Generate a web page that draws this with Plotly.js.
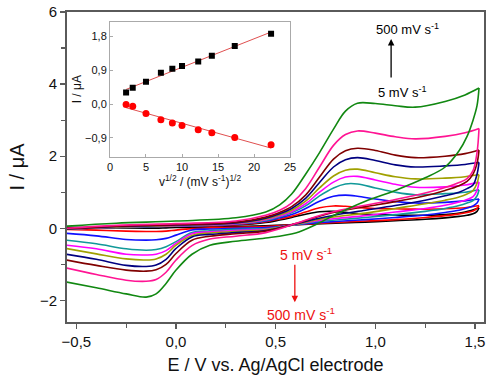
<!DOCTYPE html>
<html>
<head>
<meta charset="utf-8">
<script src="https://cdn.plot.ly/plotly-3.0.1.min.js"></script>
<style>html,body{margin:0;padding:0;background:#fff}#chart{width:500px;height:386px}</style>
</head>
<body>
<div id="chart"></div>
<script>
// Scan rates (mV/s) and colours
const scanRates = [5, 10, 25, 50, 75, 100, 150, 200, 300, 500];
const curveColors = ['#000000', '#ff0000', '#1010ff', '#119999', '#ff00ff', '#a0a000', '#000080', '#800000', '#ff1493', '#118811'];

// Forward (anodic) potential grid, V
const eForward = [-0.55, -0.3, 0.0, 0.3, 0.45, 0.52, 0.58, 0.65, 0.72, 0.79, 0.85, 0.91, 1.0, 1.1, 1.2, 1.35, 1.45, 1.52];
// Reverse (cathodic) potential grid, V
const eReverse = [1.52, 1.51, 1.49, 1.46, 1.42, 1.35, 1.25, 1.1, 0.95, 0.8, 0.7, 0.6, 0.45, 0.3, 0.17, 0.08, 0.0, -0.05, -0.1, -0.15, -0.25, -0.4, -0.55];

// Currents, uA (forward branch)
const iFwd5   = [0.0, 0.03, 0.05, 0.09, 0.16, 0.23, 0.3, 0.39, 0.46, 0.47, 0.44, 0.41, 0.38, 0.37, 0.36, 0.38, 0.45, 0.57];
const iFwd10  = [-0.01, 0.03, 0.06, 0.1, 0.18, 0.26, 0.33, 0.45, 0.57, 0.62, 0.61, 0.58, 0.55, 0.54, 0.53, 0.54, 0.57, 0.63];
const iFwd25  = [-0.02, 0.03, 0.06, 0.11, 0.2, 0.29, 0.38, 0.55, 0.75, 0.89, 0.92, 0.89, 0.81, 0.74, 0.70, 0.72, 0.76, 0.81];
const iFwd50  = [-0.02, 0.03, 0.06, 0.12, 0.22, 0.32, 0.43, 0.62, 0.9, 1.12, 1.23, 1.23, 1.12, 1.0, 0.93, 0.96, 1.0, 1.07];
const iFwd75  = [-0.02, 0.04, 0.07, 0.13, 0.24, 0.34, 0.46, 0.68, 1.0, 1.28, 1.42, 1.44, 1.34, 1.22, 1.14, 1.15, 1.2, 1.28];
const iFwd100 = [-0.02, 0.04, 0.08, 0.14, 0.26, 0.37, 0.5, 0.75, 1.12, 1.45, 1.61, 1.64, 1.54, 1.43, 1.37, 1.39, 1.43, 1.49];
const iFwd150 = [-0.02, 0.05, 0.09, 0.15, 0.28, 0.4, 0.55, 0.83, 1.27, 1.7, 1.9, 1.96, 1.88, 1.76, 1.70, 1.73, 1.77, 1.83];
const iFwd200 = [-0.01, 0.06, 0.1, 0.17, 0.31, 0.44, 0.6, 0.92, 1.42, 1.92, 2.15, 2.22, 2.16, 2.03, 1.96, 2.0, 2.07, 2.17];
const iFwd300 = [0.0, 0.08, 0.13, 0.2, 0.36, 0.5, 0.7, 1.1, 1.7, 2.3, 2.6, 2.7, 2.64, 2.54, 2.48, 2.55, 2.65, 2.77];
const iFwd500 = [0.06, 0.14, 0.2, 0.29, 0.45, 0.65, 0.95, 1.5, 2.1, 2.75, 3.25, 3.47, 3.46, 3.40, 3.36, 3.52, 3.70, 3.89];

// Currents, uA (reverse branch)
const iRev5   = [0.57, 0.47, 0.4, 0.36, 0.33, 0.29, 0.25, 0.21, 0.17, 0.14, 0.12, 0.1, 0.07, 0.05, 0.03, 0.02, 0.02, 0.01, 0.0, 0.0, 0.01, 0.02, 0.03];
const iRev10  = [0.63, 0.55, 0.48, 0.44, 0.4, 0.35, 0.3, 0.24, 0.2, 0.16, 0.13, 0.1, 0.05, 0.03, 0.01, -0.01, -0.05, -0.08, -0.09, -0.09, -0.08, -0.05, -0.03];
const iRev25  = [0.81, 0.7, 0.62, 0.56, 0.5, 0.44, 0.37, 0.3, 0.24, 0.19, 0.15, 0.1, 0.02, 0.0, -0.02, -0.05, -0.19, -0.28, -0.32, -0.33, -0.31, -0.21, -0.14];
const iRev50  = [1.07, 0.9, 0.77, 0.7, 0.63, 0.55, 0.47, 0.38, 0.3, 0.23, 0.18, 0.1, -0.01, -0.03, -0.07, -0.12, -0.37, -0.51, -0.59, -0.61, -0.57, -0.43, -0.33];
const iRev75  = [1.28, 1.05, 0.88, 0.8, 0.73, 0.64, 0.55, 0.45, 0.35, 0.27, 0.2, 0.11, -0.03, -0.06, -0.1, -0.15, -0.42, -0.62, -0.72, -0.74, -0.72, -0.57, -0.47];
const iRev100 = [1.49, 1.25, 1.05, 0.95, 0.87, 0.78, 0.68, 0.55, 0.42, 0.32, 0.23, 0.11, -0.04, -0.09, -0.13, -0.2, -0.47, -0.72, -0.85, -0.88, -0.85, -0.71, -0.56];
const iRev150 = [1.83, 1.5, 1.2, 1.1, 1.0, 0.9, 0.78, 0.63, 0.5, 0.37, 0.26, 0.12, -0.06, -0.12, -0.17, -0.24, -0.56, -0.86, -1.02, -1.06, -1.03, -0.86, -0.72];
const iRev200 = [2.17, 1.8, 1.5, 1.3, 1.18, 1.05, 0.9, 0.74, 0.6, 0.45, 0.3, 0.13, -0.08, -0.15, -0.22, -0.33, -0.70, -1.0, -1.15, -1.19, -1.16, -1.03, -0.88];
const iRev300 = [2.77, 2.1, 1.6, 1.38, 1.27, 1.13, 0.98, 0.8, 0.64, 0.47, 0.32, 0.13, -0.12, -0.22, -0.3, -0.48, -0.88, -1.22, -1.42, -1.47, -1.44, -1.28, -1.10];
const iRev500 = [3.89, 3.4, 3.0, 2.55, 2.15, 1.7, 1.4, 1.05, 0.75, 0.38, 0.1, -0.13, -0.27, -0.36, -0.47, -0.72, -1.16, -1.53, -1.82, -1.91, -1.82, -1.65, -1.49];

// Inset: peak current vs square root of scan rate
const sqrtRate = [2.24, 3.16, 5.0, 7.07, 8.66, 10.0, 12.25, 14.14, 17.32, 22.36];
const ipAnodic = [0.31, 0.43, 0.59, 0.83, 0.94, 1.01, 1.13, 1.28, 1.54, 1.87];
const ipCathodic = [-0.01, -0.06, -0.25, -0.42, -0.50, -0.57, -0.68, -0.76, -0.89, -1.08];

const fwdSets = [iFwd5, iFwd10, iFwd25, iFwd50, iFwd75, iFwd100, iFwd150, iFwd200, iFwd300, iFwd500];
const revSets = [iRev5, iRev10, iRev25, iRev50, iRev75, iRev100, iRev150, iRev200, iRev300, iRev500];

const traces = [];
for (let k = 0; k < scanRates.length; k++) {
  const line = {color: curveColors[k], width: 1.6, shape: 'spline', smoothing: 1};
  traces.push({x: eForward, y: fwdSets[k], mode: 'lines', line: line, showlegend: false, hoverinfo: 'skip', xaxis: 'x', yaxis: 'y'});
  traces.push({x: eReverse, y: revSets[k], mode: 'lines', line: line, showlegend: false, hoverinfo: 'skip', xaxis: 'x', yaxis: 'y'});
}

function linFit(xs, ys) {
  const n = xs.length;
  let sx = 0, sy = 0, sxx = 0, sxy = 0;
  for (let i = 0; i < n; i++) { sx += xs[i]; sy += ys[i]; sxx += xs[i] * xs[i]; sxy += xs[i] * ys[i]; }
  const b = (n * sxy - sx * sy) / (n * sxx - sx * sx);
  const a = (sy - b * sx) / n;
  const x0 = xs[0], x1 = xs[n - 1];
  return {x: [x0, x1], y: [a + b * x0, a + b * x1]};
}
const fitA = linFit(sqrtRate, ipAnodic);
const fitC = linFit(sqrtRate, ipCathodic);
traces.push({x: fitA.x, y: fitA.y, mode: 'lines', line: {color: '#e05050', width: 1}, xaxis: 'x2', yaxis: 'y2', showlegend: false, hoverinfo: 'skip'});
traces.push({x: fitC.x, y: fitC.y, mode: 'lines', line: {color: '#e05050', width: 1}, xaxis: 'x2', yaxis: 'y2', showlegend: false, hoverinfo: 'skip'});
traces.push({x: sqrtRate, y: ipAnodic, mode: 'markers', marker: {symbol: 'square', size: 6, color: '#000'}, xaxis: 'x2', yaxis: 'y2', showlegend: false, hoverinfo: 'skip'});
traces.push({x: sqrtRate, y: ipCathodic, mode: 'markers', marker: {symbol: 'circle', size: 7, color: '#ff0000'}, xaxis: 'x2', yaxis: 'y2', showlegend: false, hoverinfo: 'skip'});

const font = 'Liberation Sans, Arial, sans-serif';
const layout = {
  width: 500, height: 386,
  margin: {l: 67, r: 16, t: 12, b: 64},
  paper_bgcolor: '#fff', plot_bgcolor: '#fff',
  separators: ', ',
  font: {family: font, color: '#111', size: 14},
  xaxis: {
    range: [-0.547, 1.545], dtick: 0.5, tick0: 0, tickformat: '.1f',
    showgrid: false, zeroline: false, showline: true, mirror: true,
    linecolor: '#5a5a5a', linewidth: 1.8,
    ticks: 'outside', ticklen: 5, tickcolor: '#5a5a5a', tickwidth: 1.2,
    minor: {dtick: 0.25, ticks: 'outside', ticklen: 4, tickcolor: '#5a5a5a', showgrid: false},
    tickfont: {size: 15, family: font},
    title: {text: 'E / V vs. Ag/AgCl electrode', font: {size: 18, family: font}, standoff: 10}
  },
  yaxis: {
    range: [-2.6, 6.0], dtick: 2, tick0: 0,
    showgrid: false, zeroline: false, showline: true, mirror: true,
    linecolor: '#5a5a5a', linewidth: 1.8,
    ticks: 'outside', ticklen: 5, tickcolor: '#5a5a5a', tickwidth: 1.2,
    minor: {dtick: 1, ticks: 'outside', ticklen: 4, tickcolor: '#5a5a5a', showgrid: false},
    tickfont: {size: 15, family: font},
    title: {text: 'I / μA', font: {size: 20, family: font}, standoff: 10}
  },
  xaxis2: {
    domain: [0.103, 0.535], anchor: 'y2', range: [0, 25], dtick: 5,
    showgrid: false, zeroline: false, showline: true, mirror: true,
    linecolor: '#aaa', linewidth: 1, ticks: 'inside', ticklen: 3, tickcolor: '#aaa',
    tickfont: {size: 11, family: font},
    title: {text: 'v<sup>1/2</sup> / (mV s<sup>-1</sup>)<sup>1/2</sup>', font: {size: 12, family: font}, standoff: 2}
  },
  yaxis2: {
    domain: [0.533, 0.969], anchor: 'x2', range: [-1.40, 2.19],
    tickvals: [-0.9, 0, 0.9, 1.8], tickformat: '.1f',
    showgrid: false, zeroline: false, showline: true, mirror: true,
    linecolor: '#aaa', linewidth: 1, ticks: 'inside', ticklen: 3, tickcolor: '#aaa',
    tickfont: {size: 11, family: font},
    title: {text: 'I / μA', font: {size: 12, family: font}, standoff: 0}
  },
  annotations: [
    {x: 1.163, y: 5.53, xref: 'x', yref: 'y', text: '500 mV s<sup>-1</sup>', showarrow: false, font: {size: 13, color: '#000', family: font}},
    {x: 1.137, y: 3.78, xref: 'x', yref: 'y', text: '5 mV s<sup>-1</sup>', showarrow: false, font: {size: 13, color: '#000', family: font}},
    {x: 1.079, y: 5.25, ax: 1.079, ay: 4.14, xref: 'x', yref: 'y', axref: 'x', ayref: 'y', text: '', showarrow: true, arrowhead: 2, arrowsize: 1, arrowwidth: 1.3, arrowcolor: '#000'},
    {x: 0.654, y: -0.70, xref: 'x', yref: 'y', text: '5 mV s<sup>-1</sup>', showarrow: false, font: {size: 14, color: '#ee1111', family: font}},
    {x: 0.596, y: -2.05, ax: 0.596, ay: -0.97, xref: 'x', yref: 'y', axref: 'x', ayref: 'y', text: '', showarrow: true, arrowhead: 2, arrowsize: 1, arrowwidth: 1.3, arrowcolor: '#ee1111'},
    {x: 0.629, y: -2.39, xref: 'x', yref: 'y', text: '500 mV s<sup>-1</sup>', showarrow: false, font: {size: 14, color: '#ee1111', family: font}}
  ]
};

Plotly.newPlot('chart', traces, layout, {staticPlot: true, displayModeBar: false});
</script>
</body>
</html>
